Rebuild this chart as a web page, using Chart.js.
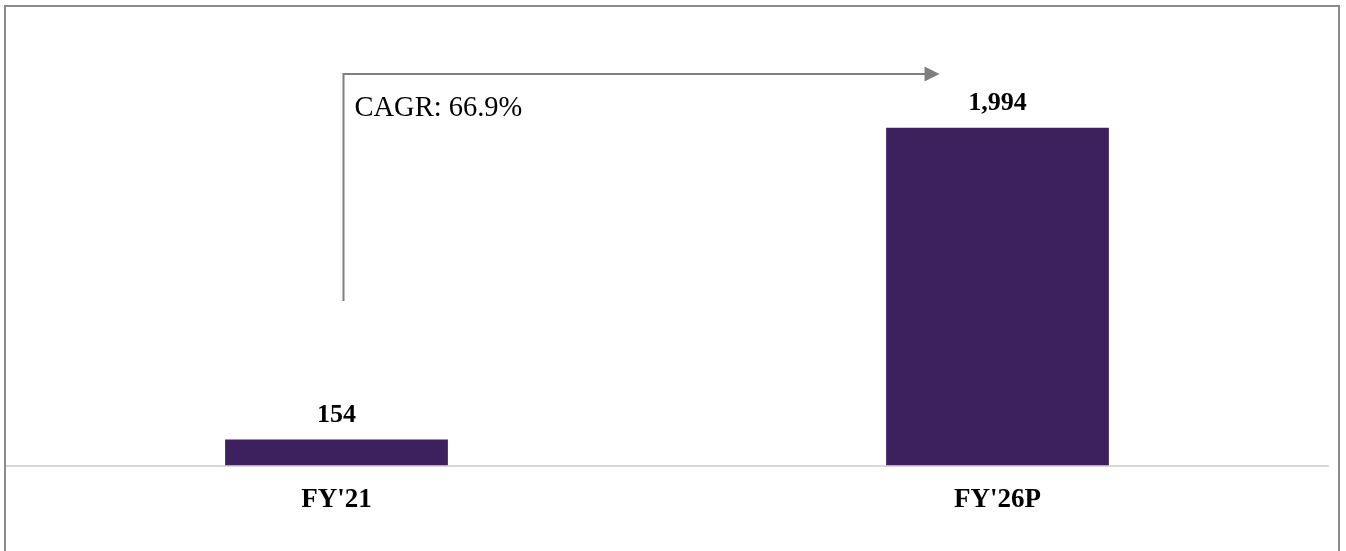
<!DOCTYPE html>
<html>
<head>
<meta charset="utf-8">
<script src="https://cdn.jsdelivr.net/npm/chart.js@4.4.1/dist/chart.umd.min.js"></script>
<style>
  html, body { margin: 0; padding: 0; background: #fff; overflow: hidden; }
  #frame {
    position: absolute; left: 4px; top: 5px;
    width: 1332px; height: 560px;
    border: 2px solid #8a8a8a; border-bottom: none;
  }
  #growthChart { display: block; }
</style>
</head>
<body>
<div id="frame">
  <canvas id="growthChart" width="1332" height="544"></canvas>
</div>
<script>
// Revenue: FY'21 actual vs FY'26 projected
const categories = ["FY'21", "FY'26P"];
const values     = [154, 1994];
const cagrText   = 'CAGR: 66.9%';

const SERIF    = "'Liberation Serif', 'Times New Roman', serif";
const barColor = '#3c215e';
const arrowGray = '#7f7f7f';

const fmt = v => v.toLocaleString('en-US');

// Value labels above each bar
const valueLabels = {
    id: 'valueLabels',
    afterDatasetsDraw(chart) {
        const ctx = chart.ctx;
        const meta = chart.getDatasetMeta(0);
        ctx.save();
        ctx.font = `bold 26px ${SERIF}`;
        ctx.fillStyle = '#000';
        ctx.textAlign = 'center';
        ctx.textBaseline = 'alphabetic';
        meta.data.forEach((bar, i) => {
            ctx.fillText(fmt(values[i]), bar.x, bar.y - 18);
        });
        ctx.restore();
    }
};

// Elbow arrow from the first bar towards the last one, with the CAGR note
const cagrArrow = {
    id: 'cagrArrow',
    afterDraw(chart) {
        const ctx = chart.ctx;
        const xs = chart.scales.x;
        const area = chart.chartArea;
        const lineX  = xs.getPixelForValue(0) + 7;
        const tipX   = xs.getPixelForValue(categories.length - 1) - 58;
        const topY   = area.top + 32;
        const bottomY = area.top + 259;

        ctx.save();
        ctx.strokeStyle = arrowGray;
        ctx.fillStyle = arrowGray;
        ctx.lineWidth = 2;
        ctx.beginPath();
        ctx.moveTo(lineX, bottomY);
        ctx.lineTo(lineX, topY);
        ctx.lineTo(tipX - 14, topY);
        ctx.stroke();

        ctx.beginPath();
        ctx.moveTo(tipX - 15, topY - 7.5);
        ctx.lineTo(tipX, topY);
        ctx.lineTo(tipX - 15, topY + 7.5);
        ctx.closePath();
        ctx.fill();

        ctx.font = `28.5px ${SERIF}`;
        ctx.fillStyle = '#000';
        ctx.textAlign = 'left';
        ctx.textBaseline = 'alphabetic';
        ctx.fillText(cagrText, lineX + 11, topY + 42);
        ctx.restore();
    }
};

new Chart(document.getElementById('growthChart'), {
    type: 'bar',
    data: {
        labels: categories,
        datasets: [{
            data: values,
            backgroundColor: barColor,
            borderWidth: 0,
            categoryPercentage: 1,
            barPercentage: 0.337
        }]
    },
    options: {
        responsive: false,
        animation: false,
        devicePixelRatio: 1,
        layout: { padding: { left: 0, right: 10, top: 35, bottom: 17 } },
        plugins: {
            legend: { display: false },
            tooltip: { enabled: false }
        },
        scales: {
            x: {
                grid: { display: false, drawTicks: false },
                border: { display: true, color: '#d9d9d9', width: 2 },
                ticks: {
                    color: '#000',
                    padding: 18,
                    font: { family: SERIF, size: 27, weight: 'bold' }
                }
            },
            y: {
                display: false,
                min: 0,
                max: 2500
            }
        }
    },
    plugins: [valueLabels, cagrArrow]
});
</script>
</body>
</html>
